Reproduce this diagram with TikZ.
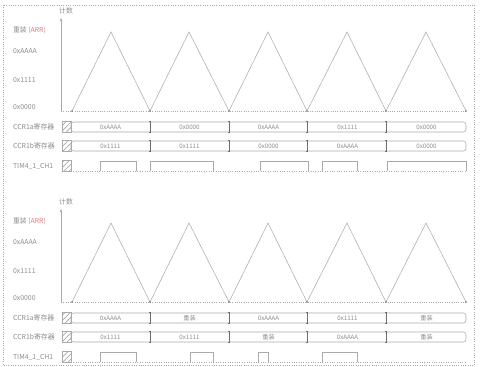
\documentclass[tikz,border=0pt]{standalone}
\usepackage{fontspec}
\newfontfamily\cjk{Noto Sans CJK SC}
\usepackage{tikz}
\usetikzlibrary{arrows.meta,patterns}
\definecolor{tgline}{RGB}{170,170,170}
\definecolor{tgdark}{RGB}{110,110,110}
\definecolor{tgtext}{RGB}{140,140,140}
\definecolor{tgred}{RGB}{220,125,125}
\tikzset{
  lbl/.style={font=\cjk\fontsize{3.9}{4.5}\selectfont,text=tgtext,inner sep=0.5pt},
  cell/.style={font=\cjk\fontsize{3.5}{4.2}\selectfont,text=tgtext,inner sep=0.5pt},
  wave/.style={tgline,line width=0.35pt},
  hatch/.style={draw=tgline,line width=0.3pt,pattern=north east lines,pattern color=tgline}
}

\begin{document}
\begin{tikzpicture}[x=0.02cm,y=-0.02cm,line width=0.3pt]
  \useasboundingbox (0,0) rectangle (480,367);
  % Frame
  \draw[tgline,densely dotted] (3,5) rectangle (474,365);

  % Both panels: axis, counter, register rows
  \foreach \oy/\pn/\ra/\rb in {0/a/{0xAAAA,0x0000,0xAAAA,0x1111,0x0000}/{0x1111,0x1111,0x0000,0xAAAA,0x0000},
      191/b/{0xAAAA,重装,0xAAAA,0x1111,重装}/{0x1111,0x1111,重装,0xAAAA,重装}} {
    \begin{scope}[shift={(0,\oy)}]
      \draw[tgline,-{Stealth[length=2pt,width=1.6pt]}] (61,111) -- (61,18);
      \node[lbl] (cnt\pn) at (66,11) {计数};
      \draw[tgline,densely dotted] (61,111) -- (466,111);
      \draw[tgline] (72,111) -- (111,32) -- (150,111) -- (189,32) -- (229,111)
        -- (268,32) -- (307,111) -- (347,32) -- (386,111) -- (426,32) -- (466,111);
      \foreach \vx in {72,150,229,307,386,466}
        \fill[tgdark] (\vx,111) circle (0.8);

      % Levels
      \node[lbl,anchor=west] (arr\pn) at (12,30) {重装\ \textcolor{tgred}{(ARR)}};
      \node[lbl,anchor=west] (hi\pn) at (12,51) {0xAAAA};
      \node[lbl,anchor=west] (mid\pn) at (12,80) {0x1111};
      \node[lbl,anchor=west] (lo\pn) at (12,107) {0x0000};

      % Rows
      \node[lbl,anchor=west] (rga\pn) at (12,127) {CCR1a寄存器};
      \node[lbl,anchor=west] (rgb\pn) at (12,146) {CCR1b寄存器};
      \node[lbl,anchor=west] (ch\pn) at (12,166) {TIM4\_1\_CH1};
      \foreach \ry in {127,146,166}
        \draw[hatch] (62,\ry-5.5) rectangle (71,\ry+5.5);
      \foreach \ry in {127,146} {
        \draw[tgline,rounded corners=1.5] (71,\ry-5) rectangle (466,\ry+5);
        \foreach \dx in {150,229,307,386} {
          \draw[tgdark,line width=0.4pt] (\dx,\ry-5.5) -- (\dx,\ry+5.5);
          \draw[tgdark] (\dx-1.2,\ry-5.5) -- (\dx+1.2,\ry-5.5) (\dx-1.2,\ry+5.5) -- (\dx+1.2,\ry+5.5);
        }
      }
      \foreach \t [count=\i] in \ra
        \node[cell] (va\pn\i) at ({31.5+79*\i},127) {\t};
      \foreach \t [count=\i] in \rb
        \node[cell] (vb\pn\i) at ({31.5+79*\i},146) {\t};
    \end{scope}
  }

  % Output waveforms (low level dotted, pulses solid)
  \draw[wave,densely dotted] (71,171) -- (466,171);
  \foreach \ra/\rb in {100/136,150/213,260/308,322/357,387/466}
    \draw[wave] (\ra,171) -- (\ra,161) -- (\rb,161) -- (\rb,171);
  \draw[wave,densely dotted] (71,362) -- (466,362);
  \foreach \ra/\rb in {100/136,190/213,258/268,322/357}
    \draw[wave] (\ra,362) -- (\ra,352) -- (\rb,352) -- (\rb,362);
\end{tikzpicture}
\end{document}
